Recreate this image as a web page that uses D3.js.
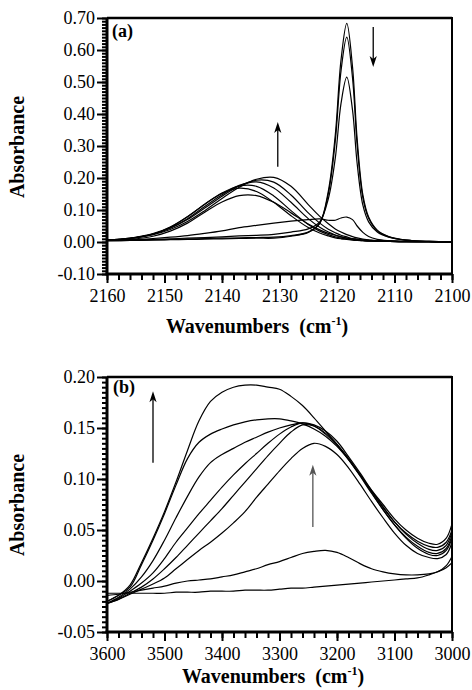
<!DOCTYPE html>
<html>
<head>
<meta charset="utf-8">
<script src="https://cdn.jsdelivr.net/npm/d3@7"></script>
<style>
  body { margin: 0; background: #fff; }
  svg { display: block; }
  svg text { font-family: "Liberation Serif", "DejaVu Serif", serif; }
</style>
</head>
<body>
<svg id="fig"></svg>
<script>
// ---- panel (a): CO stretch region, absorbance vs wavenumber ----
const wnA = [2160, 2156, 2152, 2149, 2146, 2143, 2140, 2137, 2134, 2131, 2128, 2125, 2123,
             2121.5, 2120.3, 2119.3, 2118.3, 2117.3, 2116.5, 2115.5, 2114.5, 2113, 2111, 2108, 2104, 2100];

// sharp 2118 band, decreasing with time
const specA_1 = [.004,.005,.006,.007,.008,.009,.010,.011,.012,.012,.018,.030,.059,.160,.334,.569,.683,.547,.323,.147,.078,.037,.017,.006,.002,.001];
const specA_2 = [.004,.005,.007,.008,.009,.011,.012,.013,.014,.015,.020,.031,.058,.152,.315,.535,.640,.513,.303,.138,.074,.035,.016,.006,.002,.001];
const specA_3 = [.004,.006,.008,.010,.012,.014,.016,.019,.021,.024,.031,.041,.063,.136,.262,.433,.515,.412,.246,.115,.063,.031,.015,.006,.002,.001];
const specA_4 = [.005,.007,.011,.015,.020,.027,.035,.045,.052,.059,.065,.070,.072,.068,.068,.075,.078,.070,.050,.030,.017,.008,.004,.002,.001,.000];
// broad band near 2135, growing
const specA_5 = [.005,.008,.018,.034,.059,.093,.125,.145,.145,.124,.091,.056,.038,.027,.021,.016,.012,.010,.008,.006,.005,.004,.003,.002,.001,.000];
const specA_6 = [.005,.011,.024,.046,.079,.118,.152,.168,.158,.124,.082,.045,.028,.019,.013,.010,.008,.006,.005,.004,.003,.003,.002,.001,.001,.000];
const specA_7 = [.006,.012,.026,.047,.079,.118,.153,.175,.174,.144,.098,.055,.034,.023,.016,.012,.009,.007,.006,.004,.003,.003,.002,.001,.001,.000];
const specA_8 = [.006,.011,.025,.044,.073,.111,.148,.177,.188,.169,.124,.073,.046,.031,.022,.016,.012,.009,.007,.005,.004,.003,.002,.001,.001,.000];
const specA_9 = [.006,.012,.025,.043,.070,.106,.143,.175,.193,.187,.147,.091,.059,.040,.029,.021,.016,.011,.009,.006,.005,.003,.002,.001,.001,.000];
const specA_10 = [.006,.011,.023,.039,.064,.098,.136,.171,.196,.202,.174,.117,.080,.057,.041,.031,.023,.017,.013,.009,.007,.004,.003,.001,.001,.000];

const xTicksA = [2160, 2150, 2140, 2130, 2120, 2110, 2100];
const yTicksA = [-0.10, 0.00, 0.10, 0.20, 0.30, 0.40, 0.50, 0.60, 0.70];
const arrowsA = [
    {x: 2130.3, from: 0.235, to: 0.375, color: '#000'},
    {x: 2113.7, from: 0.672, to: 0.547, color: '#000'}
];

// ---- panel (b): OH stretch region ----
const wnB = [3600, 3580, 3560, 3540, 3520, 3500, 3480, 3460, 3440, 3420, 3400, 3380, 3360, 3340, 3320, 3300,
             3280, 3260, 3240, 3220, 3200, 3180, 3160, 3140, 3120, 3100, 3080, 3060, 3040, 3025, 3010, 3000];

const specB_1 = [-.020,-.014,-.004,.018,.042,.068,.097,.128,.157,.176,.185,.190,.192,.192,.190,.188,.181,.172,.160,.147,.134,.120,.104,.089,.075,.061,.050,.042,.037,.036,.042,.056];
const specB_2 = [-.020,-.014,-.006,.016,.040,.066,.094,.120,.136,.144,.149,.153,.156,.158,.159,.159,.157,.154,.149,.142,.132,.119,.104,.088,.072,.058,.047,.039,.034,.033,.038,.050];
const specB_3 = [-.022,-.016,-.008,.004,.020,.040,.062,.083,.102,.116,.124,.130,.136,.141,.146,.150,.153,.155,.153,.147,.137,.122,.106,.089,.073,.058,.046,.037,.031,.030,.035,.048];
const specB_4 = [-.022,-.017,-.010,-.002,.008,.022,.038,.052,.066,.079,.092,.104,.115,.125,.135,.144,.151,.155,.152,.144,.133,.119,.103,.086,.070,.055,.043,.034,.028,.027,.032,.045];
const specB_5 = [-.022,-.018,-.012,-.006,.002,.012,.023,.035,.047,.059,.071,.084,.097,.110,.123,.135,.146,.153,.152,.145,.134,.120,.104,.087,.070,.055,.042,.032,.026,.025,.030,.042];
const specB_6 = [-.022,-.018,-.013,-.008,-.003,.003,.012,.021,.030,.038,.047,.057,.068,.082,.095,.108,.120,.130,.135,.132,.124,.111,.095,.078,.062,.047,.035,.027,.023,.022,.026,.038];
const specB_7 = [-.014,-.013,-.011,-.009,-.007,-.005,-.002,.000,.001,.002,.004,.006,.009,.012,.016,.019,.023,.027,.029,.030,.028,.023,.017,.012,.009,.007,.006,.006,.007,.009,.015,.024];
const specB_8 = [-.012,-.012,-.012,-.012,-.012,-.012,-.011,-.011,-.011,-.010,-.010,-.010,-.009,-.009,-.009,-.008,-.007,-.007,-.006,-.005,-.004,-.003,-.002,-.001,.000,.001,.002,.003,.006,.009,.013,.018];

const xTicksB = [3600, 3500, 3400, 3300, 3200, 3100, 3000];
const yTicksB = [-0.05, 0.00, 0.05, 0.10, 0.15, 0.20];
const arrowsB = [
    {x: 3520, from: 0.116, to: 0.186, color: '#000'},
    {x: 3242, from: 0.053, to: 0.114, color: '#555'}
];

const FONT = '"Liberation Serif", "DejaVu Serif", serif';

class SpectrumPanel {

    constructor(config, wn, spectra, arrows) {
        this.config = {
            parent: config.parent,
            id: config.id,
            left: config.left, right: config.right,
            top: config.top, bottom: config.bottom,
            xDomain: config.xDomain, yDomain: config.yDomain,
            xTicks: config.xTicks, yTicks: config.yTicks,
            xMinor: config.xMinor, yMinor: config.yMinor,
            tag: config.tag, tagX: config.tagX, tagY: config.tagY,
            titleX: config.titleX, titleY: config.titleY,
            ylabelX: config.ylabelX, ylabelY: config.ylabelY
        };
        this.wn = wn;
        this.spectra = spectra;
        this.arrows = arrows;
        this.init();
    }

    init() {
        let self = this;
        let c = self.config;

        self.svg = d3.select(c.parent);
        self.chart = self.svg.append('g');

        self.xScale = d3.scaleLinear().domain(c.xDomain).range([c.left, c.right]);
        self.yScale = d3.scaleLinear().domain(c.yDomain).range([c.bottom, c.top]);

        self.line = d3.line()
            .x((d, i) => self.xScale(self.wn[i]))
            .y(d => self.yScale(d))
            .curve(d3.curveCatmullRom.alpha(0.5));
    }

    minorTicks(domain, step) {
        let lo = Math.min(domain[0], domain[1]);
        let hi = Math.max(domain[0], domain[1]);
        let n = Math.round((hi - lo) / step);
        return d3.range(n + 1).map(i => +(lo + i * step).toFixed(4));
    }

    render() {
        let self = this;
        let c = self.config;

        // clip for the spectra
        self.svg.append('clipPath').attr('id', 'clip-' + c.id)
            .append('rect')
            .attr('x', c.left).attr('y', c.top)
            .attr('width', c.right - c.left).attr('height', c.bottom - c.top);

        // minor + major ticks, left
        self.chart.append('g')
            .attr('transform', `translate(${c.left},0)`)
            .call(d3.axisLeft(self.yScale).tickValues(self.minorTicks(c.yDomain, c.yMinor)).tickSize(5).tickFormat(''))
            .call(g => g.select('.domain').remove())
            .call(g => g.selectAll('line').attr('stroke-width', 2));

        self.chart.append('g')
            .attr('transform', `translate(${c.left},0)`)
            .call(d3.axisLeft(self.yScale).tickValues(c.yTicks).tickSize(10).tickPadding(2).tickFormat(d => d.toFixed(2)))
            .call(g => g.select('.domain').remove())
            .call(g => g.attr('font-family', null).attr('font-size', null))
            .call(g => g.selectAll('line').attr('stroke-width', 2))
            .call(g => g.selectAll('text').style('font-family', FONT).style('font-size', '18px').attr('fill', '#000'));

        // minor + major ticks, bottom
        self.chart.append('g')
            .attr('transform', `translate(0,${c.bottom})`)
            .call(d3.axisBottom(self.xScale).tickValues(self.minorTicks(c.xDomain, c.xMinor)).tickSize(6).tickFormat(''))
            .call(g => g.select('.domain').remove())
            .call(g => g.selectAll('line').attr('stroke-width', 2));

        self.chart.append('g')
            .attr('transform', `translate(0,${c.bottom})`)
            .call(d3.axisBottom(self.xScale).tickValues(c.xTicks).tickSize(9).tickPadding(6).tickFormat(d3.format('d')))
            .call(g => g.select('.domain').remove())
            .call(g => g.attr('font-family', null).attr('font-size', null))
            .call(g => g.selectAll('line').attr('stroke-width', 2))
            .call(g => g.selectAll('text').style('font-family', FONT).style('font-size', '18px').attr('fill', '#000'));

        // spectra
        self.chart.append('g')
            .attr('clip-path', `url(#clip-${c.id})`)
            .selectAll('path')
            .data(self.spectra)
            .enter()
            .append('path')
            .attr('d', self.line)
            .attr('fill', 'none')
            .attr('stroke', '#000')
            .attr('stroke-width', 1.2);

        // frame
        let frame = [
            {x1: c.left, y1: c.top, x2: c.left, y2: c.bottom, w: 3},
            {x1: c.left - 1.5, y1: c.bottom, x2: c.right + 1, y2: c.bottom, w: 3},
            {x1: c.left, y1: c.top, x2: c.right, y2: c.top, w: 2.5},
            {x1: c.right, y1: c.top - 1, x2: c.right, y2: c.bottom, w: 2}
        ];
        self.chart.selectAll('line.frame')
            .data(frame)
            .enter()
            .append('line')
            .attr('class', 'frame')
            .attr('x1', d => d.x1).attr('y1', d => d.y1)
            .attr('x2', d => d.x2).attr('y2', d => d.y2)
            .attr('stroke', '#000')
            .attr('stroke-width', d => d.w);

        // arrows
        self.arrows.forEach(function(a) {
            let x = self.xScale(a.x);
            let y0 = self.yScale(a.from);
            let y1 = self.yScale(a.to);
            let dir = y1 > y0 ? 1 : -1;
            self.chart.append('line')
                .attr('x1', x).attr('x2', x)
                .attr('y1', y0).attr('y2', y1 - dir * 7)
                .attr('stroke', a.color)
                .attr('stroke-width', 1.3);
            self.chart.append('path')
                .attr('d', `M${x},${y1} L${x - 3.6},${y1 - dir * 11} L${x},${y1 - dir * 8} L${x + 3.6},${y1 - dir * 11} Z`)
                .attr('fill', a.color);
        });

        // panel tag
        self.chart.append('text')
            .attr('x', c.tagX).attr('y', c.tagY)
            .style('font-family', FONT).style('font-weight', 'bold').style('font-size', '18px')
            .text(c.tag);

        // x title
        let t = self.chart.append('text')
            .attr('x', c.titleX).attr('y', c.titleY)
            .attr('text-anchor', 'middle')
            .style('font-family', FONT).style('font-weight', 'bold').style('font-size', '20px')
            .style('white-space', 'pre');
        t.append('tspan').text('Wavenumbers  (cm');
        t.append('tspan').style('font-size', '12px').attr('dy', -8).text('-1');
        t.append('tspan').attr('dy', 8).text(')');

        // y title
        self.chart.append('text')
            .attr('transform', `translate(${c.ylabelX},${c.ylabelY}) rotate(-90)`)
            .attr('text-anchor', 'middle')
            .style('font-family', FONT).style('font-weight', 'bold').style('font-size', '20px')
            .text('Absorbance');
    }
}

d3.select('#fig').attr('width', 472).attr('height', 690);

let panelA = new SpectrumPanel({
    parent: '#fig', id: 'a',
    left: 107, right: 452, top: 18, bottom: 274,
    xDomain: [2160, 2100], yDomain: [-0.10, 0.70],
    xTicks: xTicksA, yTicks: yTicksA, xMinor: 2, yMinor: 0.01,
    tag: '(a)', tagX: 112, tagY: 37,
    titleX: 257, titleY: 333,
    ylabelX: 24, ylabelY: 147
}, wnA, [specA_1, specA_2, specA_3, specA_4, specA_5, specA_6, specA_7, specA_8, specA_9, specA_10], arrowsA);
panelA.render();

let panelB = new SpectrumPanel({
    parent: '#fig', id: 'b',
    left: 107, right: 452, top: 377, bottom: 632,
    xDomain: [3600, 3000], yDomain: [-0.05, 0.20],
    xTicks: xTicksB, yTicks: yTicksB, xMinor: 20, yMinor: 0.005,
    tag: '(b)', tagX: 113, tagY: 393,
    titleX: 273, titleY: 683,
    ylabelX: 24, ylabelY: 505
}, wnB, [specB_1, specB_2, specB_3, specB_4, specB_5, specB_6, specB_7, specB_8], arrowsB);
panelB.render();
</script>
</body>
</html>
